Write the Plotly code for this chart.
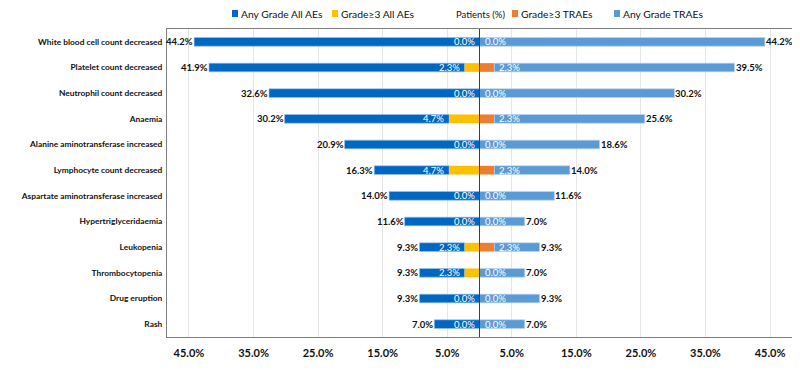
import plotly.graph_objects as go

categories = ["White blood cell count decreased", "Platelet count decreased", "Neutrophil count decreased",
              "Anaemia", "Alanine aminotransferase increased", "Lymphocyte count decreased",
              "Aspartate aminotransferase increased", "Hypertriglyceridaemia", "Leukopenia",
              "Thrombocytopenia", "Drug eruption", "Rash"]
any_grade_all = [44.2, 41.9, 32.6, 30.2, 20.9, 16.3, 14.0, 11.6, 9.3, 9.3, 9.3, 7.0]
g3_all = [0.0, 2.3, 0.0, 4.7, 0.0, 4.7, 0.0, 0.0, 2.3, 2.3, 0.0, 0.0]
g3_trae = [0.0, 2.3, 0.0, 2.3, 0.0, 2.3, 0.0, 0.0, 2.3, 0.0, 0.0, 0.0]
any_grade_trae = [44.2, 39.5, 30.2, 25.6, 18.6, 14.0, 11.6, 7.0, 9.3, 7.0, 9.3, 7.0]
tick_vals = [-45, -35, -25, -15, -5, 5, 15, 25, 35, 45]
tick_text = ["45.0%", "35.0%", "25.0%", "15.0%", "5.0%", "5.0%", "15.0%", "25.0%", "35.0%", "45.0%"]
series_names = ["Any Grade All AEs", "Grade≥3 All AEs", "Grade≥3 TRAEs", "Any Grade TRAEs"]

FONT = "Lato, Roboto, sans-serif"
C_DB, C_Y, C_O, C_LB = "#0068C2", "#FFC000", "#ED7D31", "#5B9BD5"
W = 0.34
OFF = 8  # page body offset
FW, FH = 800 - OFF, 370 - OFF
ML, MR, MT, MB = 167 - OFF, 8, 29 - OFF, 33
PW, PH = FW - ML - MR, FH - MT - MB

fig = go.Figure()
fig.add_trace(go.Bar(y=categories, x=[a - g for a, g in zip(any_grade_all, g3_all)],
                     base=[-a for a in any_grade_all], orientation="h", width=W,
                     marker=dict(color=C_DB, line=dict(color="#9DC3E6", width=0.6)),
                     name=series_names[0], hoverinfo="skip"))
fig.add_trace(go.Bar(y=categories, x=g3_all, base=[-g for g in g3_all], orientation="h", width=W,
                     marker=dict(color=C_Y, line=dict(width=0)),
                     name=series_names[1], hoverinfo="skip"))
fig.add_trace(go.Bar(y=categories, x=g3_trae, base=[0] * len(categories), orientation="h", width=W,
                     marker=dict(color=C_O, line=dict(width=0)),
                     name=series_names[2], hoverinfo="skip"))
fig.add_trace(go.Bar(y=categories, x=[a - g for a, g in zip(any_grade_trae, g3_trae)],
                     base=g3_trae, orientation="h", width=W,
                     marker=dict(color=C_LB, line=dict(color="#BDD7EE", width=0.6)),
                     name=series_names[3], hoverinfo="skip"))

ann = []
LF = 9.5
for c, a, g, g2, a2 in zip(categories, any_grade_all, g3_all, g3_trae, any_grade_trae):
    ann.append(dict(x=-a, y=c, text=f"<b>{a:.1f}%</b>", xanchor="right", showarrow=False,
                    xshift=1, font=dict(size=LF, color="#111", family=FONT)))
    ann.append(dict(x=a2, y=c, text=f"<b>{a2:.1f}%</b>", xanchor="left", showarrow=False,
                    xshift=-1, font=dict(size=LF, color="#111", family=FONT)))
    ann.append(dict(x=-g, y=c, text=f"{g:.1f}%", xanchor="right", showarrow=False,
                    xshift=-3, font=dict(size=LF, color="white", family=FONT)))
    ann.append(dict(x=g2, y=c, text=f"{g2:.1f}%", xanchor="left", showarrow=False,
                    xshift=3, font=dict(size=LF, color="white", family=FONT)))

# legend drawn manually (keeps the gap for the central title); positions in screen px
shapes = []
leg_px = [232, 332, 512, 614]
leg_cols = [C_DB, C_Y, C_O, C_LB]
ly = 14


def px2paper_x(px):
    return (px - OFF - ML) / PW


def px2paper_y(py):
    return (FH - MB - (py - OFF)) / PH


for px, col, nm in zip(leg_px, leg_cols, series_names):
    shapes.append(dict(type="rect", xref="paper", yref="paper",
                       x0=px2paper_x(px), x1=px2paper_x(px + 6),
                       y0=px2paper_y(ly + 3), y1=px2paper_y(ly - 4),
                       fillcolor=col, line=dict(width=0)))
    ann.append(dict(x=px2paper_x(px + 7), y=px2paper_y(ly), xref="paper", yref="paper",
                    xanchor="left", yanchor="middle", text=nm, showarrow=False,
                    font=dict(size=10.3, color="#111", family=FONT)))
ann.append(dict(x=px2paper_x(480), y=px2paper_y(ly), xref="paper", yref="paper",
                xanchor="center", yanchor="middle", text="Patients (%)", showarrow=False,
                font=dict(size=9.5, color="#111", family=FONT)))
shapes.append(dict(type="line", x0=0, x1=0, y0=0, y1=1, yref="paper", line=dict(color="#404040", width=1)))

fig.update_layout(
    width=FW, height=FH, barmode="overlay",
    margin=dict(l=ML, r=MR, t=MT, b=MB),
    paper_bgcolor="white", plot_bgcolor="white",
    font=dict(family=FONT, color="#111"),
    annotations=ann, shapes=shapes, showlegend=False,
    xaxis=dict(range=[-48.4, 48.4], tickvals=tick_vals, ticktext=[f"<b>{t}</b>" for t in tick_text],
               showgrid=True, gridcolor="#E6E6E6", zeroline=False, showline=True, automargin=False,
               linecolor="#7F7F7F", mirror=True, tickfont=dict(size=11, family=FONT), ticks="",
               ticklabelstandoff=6),
    yaxis=dict(autorange="reversed", showgrid=False, showline=True, linecolor="#7F7F7F", mirror=True,
               tickfont=dict(size=8.4, family=FONT), ticklabelstandoff=2, automargin=False,
               tickvals=categories, ticktext=[f"<b>{c}</b>" for c in categories]),
)
fig.write_html("out.html")
